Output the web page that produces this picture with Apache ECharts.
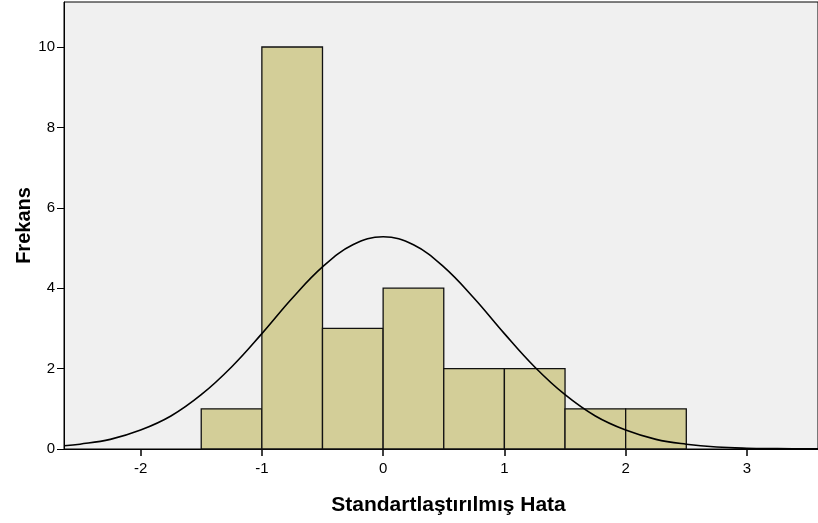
<!DOCTYPE html>
<html>
<head>
<meta charset="utf-8">
<script src="https://cdn.jsdelivr.net/npm/echarts@6/dist/echarts.min.js"></script>
<style>
  html, body { margin: 0; padding: 0; background: #ffffff; }
  #chart { width: 818px; height: 523px; }
</style>
</head>
<body>
<div id="chart"></div>
<script>
// histogram bins (standardized residual) and their counts
const binStart = [-1.5, -1, -0.5, 0, 0.5, 1, 1.5, 2]
const binEnd = [-1, -0.5, 0, 0.5, 1, 1.5, 2, 2.5]
const counts = [1, 10, 3, 4, 2, 2, 1, 1]

// normal curve
const curveX = [-2.63, -2.5, -2.25, -2, -1.75, -1.5, -1.25, -1, -0.75, -0.5, -0.25, 0,
  0.25, 0.5, 0.75, 1, 1.25, 1.5, 1.75, 2, 2.25, 2.5, 2.75, 3, 3.25, 3.5, 3.59]
const curveY = [0.08, 0.12, 0.24, 0.47, 0.82, 1.35, 2.04, 2.87, 3.75, 4.53, 5.08, 5.28,
  5.08, 4.53, 3.75, 2.87, 2.04, 1.35, 0.82, 0.47, 0.24, 0.12, 0.05, 0.02, 0.01, 0.003, 0.002]

const xTicks = [-2, -1, 0, 1, 2, 3]
const yTicks = [0, 2, 4, 6, 8, 10]

const chart = echarts.init(document.getElementById("chart"), null, { renderer: "canvas" })
const font = "Liberation Sans, Arial, sans-serif"

chart.setOption({
  animation: false,
  textStyle: { fontFamily: font },
  grid: {
    left: 64, right: -2, top: 2, bottom: 74,
    show: true, backgroundColor: "#f0f0f0", borderColor: "#000", borderWidth: 1,
  },
  xAxis: {
    type: "value",
    min: -2.6316,
    max: 3.586,
    name: "Standartlaştırılmış Hata",
    nameLocation: "middle",
    nameGap: 46,
    nameMoveOverlap: false,
    nameTextStyle: {
      fontFamily: font, fontWeight: "bold", fontSize: 21, color: "#000",
      padding: [0, 0, 0, 15],
    },
    axisLine: { show: true, lineStyle: { color: "#000", width: 1 } },
    axisTick: { show: true, length: 7, customValues: xTicks, lineStyle: { color: "#000", width: 1.5 } },
    axisLabel: { customValues: xTicks, color: "#000", fontSize: 15, margin: 12 },
    splitLine: { show: false },
  },
  yAxis: {
    type: "value",
    min: 0,
    max: 11.12,
    name: "Frekans",
    nameLocation: "middle",
    nameGap: 30,
    nameMoveOverlap: false,
    nameTextStyle: { fontFamily: font, fontWeight: "bold", fontSize: 20, color: "#000" },
    axisLine: { show: true, onZero: false, lineStyle: { color: "#000", width: 1 } },
    axisTick: { show: true, length: 7, customValues: yTicks, lineStyle: { color: "#000", width: 1 } },
    axisLabel: { customValues: yTicks, color: "#000", fontSize: 15, margin: 9 },
    splitLine: { show: false },
  },
  series: [
    {
      type: "custom",
      data: counts.map((c, i) => [binStart[i], binEnd[i], c]),
      encode: { x: [0, 1], y: 2 },
      renderItem: (params, api) => {
        const p0 = api.coord([api.value(0), api.value(2)])
        const p1 = api.coord([api.value(1), 0])
        return {
          type: "rect",
          shape: { x: p0[0], y: p0[1], width: p1[0] - p0[0], height: p1[1] - p0[1] },
          style: { fill: "#d3ce98", stroke: "#111", lineWidth: 1.3 },
        }
      },
      z: 2,
    },
    {
      type: "line",
      data: curveX.map((x, i) => [x, curveY[i]]),
      showSymbol: false,
      smooth: 0.4,
      lineStyle: { color: "#000", width: 1.6 },
      z: 3,
    },
  ],
})
</script>
</body>
</html>
